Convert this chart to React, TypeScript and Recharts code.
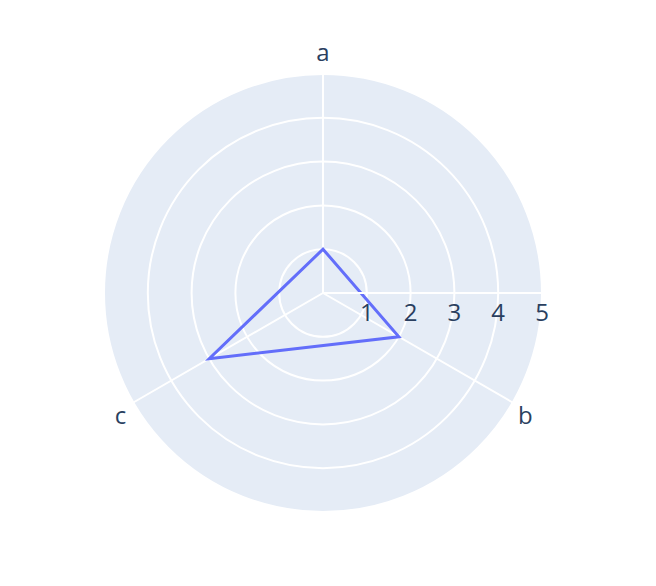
import React from 'react';
import { RadarChart, Radar, PolarGrid, PolarAngleAxis, PolarRadiusAxis } from 'recharts';

const categories = ['a', 'b', 'c'];
const values = [1, 2, 3];
const radialTicks = [0, 1, 2, 3, 4, 5];

const data = categories.map((c, i) => ({ theta: c, r: values[i] }));

const W = 656;
const H = 586;
const CX = 323;
const CY = 293;
const R = 219;
const FONT = '"Open Sans", verdana, arial, sans-serif';
const TEXT = '#2a3f5f';
const BG = '#E5ECF6';

const AngleTick = (props: any) => {
  const { x, y, payload } = props;
  const dxc = x - CX;
  const top = Math.abs(dxc) < 1;
  const nx = top ? x : x - Math.sign(dxc) * 2;
  const ny = top ? y - 6 : y + 3;
  return (
    <text x={nx} y={ny} textAnchor="middle" dominantBaseline="central" fill={TEXT} fontSize={24} fontFamily={FONT}>
      {payload.value}
    </text>
  );
};

const RadiusTick = (props: any) => {
  const { x, y, payload } = props;
  if (payload.value === 0) return null;
  return (
    <text x={x} y={y + 18} textAnchor="middle" dominantBaseline="central" fill={TEXT} fontSize={24} fontFamily={FONT}>
      {payload.value}
    </text>
  );
};

export default function App() {
  return (
    <div style={{ position: 'absolute', left: 0, top: 0, width: W, height: H, background: '#fff' }}>
      <div
        style={{
          position: 'absolute',
          left: CX - R,
          top: CY - R,
          width: 2 * R,
          height: 2 * R,
          borderRadius: '50%',
          background: BG,
          zIndex: 0,
        }}
      />
      <div style={{ position: 'absolute', left: 0, top: 0, zIndex: 1 }}>
        <RadarChart width={W} height={H} data={data} cx={CX} cy={CY} outerRadius={R} margin={{ top: 0, right: 0, bottom: 0, left: 0 }}>
          <PolarGrid gridType="circle" stroke="#ffffff" strokeWidth={2} />
          <PolarAngleAxis dataKey="theta" tick={<AngleTick />} tickLine={false} tickSize={17} axisLine={false} />
          <PolarRadiusAxis
            angle={0}
            domain={[0, 5]}
            ticks={radialTicks as any}
            tick={<RadiusTick />}
            tickLine={false}
            axisLine={{ stroke: '#ffffff', strokeWidth: 2 }}
            type="number"
          />
          <Radar dataKey="r" stroke="#636efa" strokeWidth={3} fill="none" fillOpacity={0} dot={false} isAnimationActive={false} />
        </RadarChart>
      </div>
    </div>
  );
}
